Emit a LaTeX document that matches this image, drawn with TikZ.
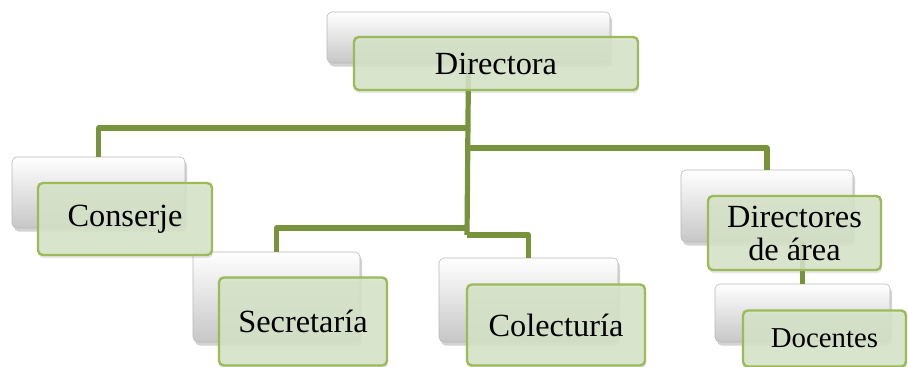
\documentclass[tikz,border=0pt]{standalone}
\usepackage{fontspec}
\setmainfont{Liberation Serif}
\usetikzlibrary{shadows,positioning}
\definecolor{leafline}{HTML}{77933C}
\definecolor{leaffill}{HTML}{D7E4C8}
\definecolor{leafedge}{HTML}{9BBB59}
\tikzset{
	dims/.style 2 args={minimum width=#1*0.025cm, minimum height=#2*0.025cm},
	backbox/.style={rectangle, rounded corners=0.12cm, draw=black!28, top color=white, middle color=white, bottom color=black!22,
		drop shadow={opacity=0.35, shadow xshift=0.05cm, shadow yshift=-0.09cm}},
	frontbox/.style={rectangle, rounded corners=0.12cm, draw=leafedge, line width=0.06cm, fill=leaffill,
		fill opacity=0.85, text opacity=1, align=center, inner sep=0pt, font=\fontsize{23}{23.5}\selectfont,
		drop shadow={opacity=0.2, shadow xshift=0.02cm, shadow yshift=-0.08cm}},
	conn/.style={draw=leafline, line width=0.13cm, line join=round},
}

\begin{document}
\begin{tikzpicture}[x=0.025cm,y=-0.025cm]
	\useasboundingbox (0,0) rectangle (908,367);

	% back boxes
	\node[backbox, dims={283}{51}] (dirB) at (468.5,37.5) {};
	\node[backbox, dims={173}{71}] (conB) at (98.5,192.5) {};
	\node[backbox, dims={167}{90}] (secB) at (276.5,297) {};
	\node[backbox, dims={179}{84}] (colB) at (528.5,300) {};
	\node[backbox, dims={172}{72}] (dirAB) at (767,206) {};
	\node[backbox, dims={175}{58}] (docB) at (802.5,313) {};

	% junctions on the trunk
	\coordinate (j1) at (467,128);
	\coordinate (j2) at (467,148);
	\coordinate (j3) at (467,228);
	\coordinate (j4) at (467,235);

	\draw[conn] (dirB.south) -- (j4);
	\draw[conn] (j1) -| (conB.north);
	\draw[conn] (j2) -| (dirAB.north);
	\draw[conn] (j3) -| (secB.north);
	\draw[conn] (j4) -| (colB.north);
	\draw[conn] (dirAB.south -| docB.north) -- (docB.north);

	% front boxes
	\node[frontbox, dims={284}{53}] (dir) at (496,63.5) {Directora};
	\node[frontbox, dims={174}{72}] (con) at (125,219) {Conserje};
	\node[frontbox, dims={168}{88}] (sec) at (303,321.5) {Secretaría};
	\node[frontbox, dims={178}{81}] (col) at (556,325) {Colecturía};
	\node[frontbox, dims={173}{74}] (dirA) at (794.5,233) {Directores\\de área};
	\node[frontbox, dims={163}{56}, font=\fontsize{20.5}{22}\selectfont] (doc) at (824.5,338.5) {Docentes};
\end{tikzpicture}
\end{document}
